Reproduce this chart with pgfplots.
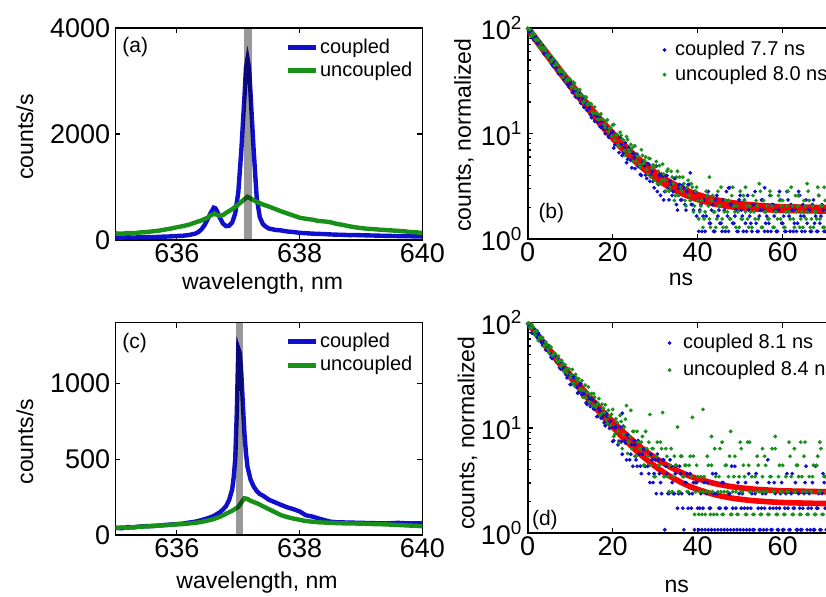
\documentclass[border=0pt]{standalone}
\usepackage{fontspec}
\setmainfont{Liberation Sans}
\usepackage{pgfplots}
\pgfplotsset{compat=1.18}

\definecolor{mblue}{RGB}{15,15,205}
\definecolor{mgreen}{RGB}{25,145,25}
\definecolor{mred}{RGB}{250,0,0}

\pgfplotsset{
  panel/.style={
    scale only axis, anchor=south west,
    axis line style={line width=0.8pt},
    tick style={black, line width=0.6pt},
    major tick length=2.5pt, minor tick length=1.4pt,
    tick label style={font=\fontsize{13.5}{14}\selectfont},
    xticklabel style={inner sep=1.5pt},
    yticklabel style={inner sep=2.5pt},
    label style={font=\fontsize{11.5}{13}\selectfont, inner sep=0pt},
    /pgf/number format/assume math mode=true,
    /pgf/number format/1000 sep={},
    legend cell align=left,
  },
  spec/.style={
    panel,
    xmin=635, xmax=640, xtick={636,638,640},
    xlabel={wavelength, nm}, ylabel={counts/s},
    legend image code/.code={\draw[##1, line width=2.5pt] (0pt,0pt) -- (14pt,0pt);},
  },
  decay/.style={
    panel,
    xmin=0, xmax=72, xtick={0,20,40,60},
    ymin=1, ymax=100,
    ytick={1,10,100},
    yticklabels={10\textsuperscript{0},10\textsuperscript{1},10\textsuperscript{2}},
    minor ytick={2,3,4,5,6,7,8,9,20,30,40,50,60,70,80,90},
    xlabel={ns}, ylabel={counts, normalized},
    legend image code/.code={\draw[##1, mark size=0.75pt] plot coordinates {(0pt,0pt)};},
  },
  spline/.style={line width=2.2pt},
  dots/.style={only marks, mark=*, mark size=0.75pt},
  fit/.style={mred, line width=#1, smooth, forget plot},
  band/.style={black, opacity=0.4, line width=#1, forget plot},
}

\begin{document}
\begin{tikzpicture}
\path[use as bounding box] (0,0) rectangle (413pt,298.5pt);
\clip (0,0) rectangle (413pt,298.5pt);

% (a) spectrum
\begin{axis}[spec,
  at={(57.75pt,178.5pt)}, width=153.5pt, height=106pt,
  ymin=0, ymax=4000, ytick={0,2000,4000},
  xlabel style={at={(axis description cs:0.479,-0.232)}, anchor=base},
  ylabel style={at={(axis description cs:-0.295,0.486)}, anchor=center},
  legend style={draw=none, fill=none, inner sep=0pt, font=\fontsize{10}{12}\selectfont,
    at={(0.551,0.959)}, anchor=north west, row sep=0.6pt, column sep=0pt, nodes={inner sep=1pt}},
]
\addplot[spline, mblue] coordinates {
(635.0,48)(635.1,42)(635.2,50)(635.3,45)(635.4,53)(635.5,55)(635.6,52)(635.7,60)(635.8,63)(635.9,68)
(636.0,75)(636.1,80)(636.2,95)(636.3,120)(636.35,150)(636.4,200)(636.45,280)(636.5,390)(636.55,510)
(636.6,610)(636.625,600)(636.65,555)(636.7,420)(636.75,310)(636.8,262)(636.85,268)(636.9,330)
(636.95,500)(637.0,900)(637.05,1700)(637.1,2700)(637.125,3250)(637.15,3420)(637.175,3250)(637.2,2750)
(637.25,1700)(637.3,800)(637.35,430)(637.4,300)(637.45,250)(637.5,215)(637.55,205)(637.6,190)
(637.7,180)(637.8,160)(637.9,150)(638.0,135)(638.1,128)(638.2,120)(638.3,115)(638.4,112)(638.5,105)
(638.6,100)(638.7,98)(638.8,92)(638.9,94)(639.0,90)(639.2,84)(639.4,78)(639.6,74)(639.8,70)(640.0,66)
};
\addlegendentry{coupled}
\addplot[spline, mgreen] coordinates {
(635.0,125)(635.1,118)(635.2,132)(635.3,128)(635.4,142)(635.5,150)(635.6,162)(635.7,175)(635.8,195)
(635.9,215)(636.0,240)(636.1,262)(636.2,290)(636.3,330)(636.4,370)(636.5,420)(636.55,465)(636.6,490)
(636.65,478)(636.7,455)(636.75,470)(636.8,510)(636.9,580)(637.0,670)(637.05,720)(637.1,770)(637.15,815)
(637.2,785)(637.25,750)(637.3,720)(637.4,670)(637.5,630)(637.6,585)(637.7,540)(637.8,500)(637.9,460)
(638.0,420)(638.1,400)(638.2,385)(638.3,360)(638.4,350)(638.5,335)(638.6,305)(638.7,285)(638.8,260)
(638.9,240)(639.0,225)(639.1,212)(639.2,205)(639.3,195)(639.4,188)(639.5,180)(639.6,172)(639.7,165)
(639.8,150)(639.9,145)(640.0,130)
};
\addlegendentry{uncoupled}
\addplot[band=4pt] coordinates {(637.155,0)(637.155,4000)};
\node[anchor=west, inner sep=0pt, font=\fontsize{10.5}{12}\selectfont] at (rel axis cs:0.021,0.91) {(a)};
\end{axis}

% (b) decay
\begin{axis}[decay, ymode=log,
  at={(263.85pt,179pt)}, width=153pt, height=105.35pt,
  xlabel style={at={(axis description cs:0.501,-0.222)}, anchor=base},
  ylabel style={at={(axis description cs:-0.208,0.493)}, anchor=center},
  legend style={draw=none, fill=none, inner sep=0pt, font=\fontsize{10}{12}\selectfont,
    at={(0.441,0.95)}, anchor=north west, row sep=1.6pt, column sep=3.5pt, nodes={inner sep=1pt}},
]
\addplot[dots, mblue] coordinates {
(0,99.5)(0.5,89.8)(1,90.4)(1.5,77.3)(2,81.2)(2.5,73.6)(3,66.3)(3.5,68.5)(4,56.7)(4.5,57.6)(5,52.3)
(5.5,52.9)(6,43.5)(6.5,45.5)(7,40.4)(7.5,41.0)(8,36.8)(8.5,32.6)(9,33.7)(9.5,29.3)(10,31.5)(10.5,24.6)
(11,25.9)(11.5,25.6)(12,21.6)(12.5,19.5)(13,21.8)(13.5,19.5)(14,16.7)(14.5,17.6)(15,14.2)(15.5,15.5)
(16,15.2)(16.5,12.9)(17,11.7)(17.5,13.1)(18,11.1)(18.5,11.3)(19,9.28)(19.5,9.75)(20,10.4)(20.5,7.83)
(21,9.76)(21.5,6.61)(22,7.93)(22.5,6.56)(23,8.16)(23.5,5.70)(24,6.81)(24.5,4.74)(25,5.90)(25.5,6.30)
(26,4.89)(26.5,4.09)(27,5.38)(27.5,4.98)(28,3.76)(28.5,5.12)(29,4.0)(29.5,3.53)(30,4.88)(30.5,2.82)
(31,4.0)(31.5,4.12)(32,2.35)(32.5,4.0)(33,3.06)(33.5,3.53)(34,2.59)(34.5,3.76)(35,2.12)(35.5,3.06)
(36,2.35)(36.5,3.29)(37,2.12)(37.5,2.82)(38,3.29)(38.5,2.12)(39,1.88)(39.5,2.82)(40,2.35)
(40.5,1.88)(41,1.18)(41.5,2.35)(42,1.65)(42.5,2.82)(43,1.41)(43.5,2.12)(44,1.18)(44.5,2.59)(45,1.88)
(45.5,1.41)(46,2.35)(46.5,1.18)(47,1.65)(47.5,3.06)(48,2.12)(48.5,1.41)(49,1.88)(49.5,1.18)(50,2.59)
(50.5,1.65)(51,2.35)(51.5,1.18)(52,1.88)(52.5,1.41)(53,2.12)(53.5,2.82)(54,1.18)(54.5,1.65)(55,2.35)
(55.5,1.88)(56,1.41)(56.5,1.18)(57,2.59)(57.5,2.12)(58,1.65)(58.5,1.18)(59,1.88)(59.5,2.35)(60,1.41)
(60.5,1.18)(61,2.82)(61.5,1.65)(62,2.12)(62.5,1.18)(63,1.88)(63.5,1.41)(64,2.59)(64.5,1.18)(65,1.65)
(65.5,2.35)(66,1.88)(66.5,1.18)(67,2.12)(67.5,1.41)(68,1.18)(68.5,2.59)(69,1.65)(69.5,1.88)(70,1.18)
(70.5,2.35)(71,1.41)(71.5,2.12)(72,1.18)
(38.25,4.24)(47.25,3.06)(55.75,3.06)(63.75,2.82)
(0.25,93.8)(0.75,95.2)(1.25,80.0)(1.75,81.5)(2.25,72.0)(2.75,74.6)(3.25,65.4)(3.75,57.7)(4.25,62.3)
(4.75,53.1)(5.25,52.9)(5.75,45.4)(6.25,48.1)(6.75,41.7)(7.25,37.2)(7.75,39.1)(8.25,37.9)(8.75,31.6)
(9.25,31.9)(9.75,27.7)(10.25,30.0)(10.75,24.9)(11.25,22.4)(11.75,24.6)(12.25,24.0)(12.75,20.0)
(13.25,17.8)(13.75,19.2)(14.25,18.9)(14.75,15.2)(15.25,15.7)(15.75,13.1)(16.25,14.7)(16.75,14.2)
(17.25,11.5)(17.75,11.9)(18.25,10.0)(18.75,11.2)(19.25,9.5)(19.75,10.3)(20.25,7.3)(20.75,9.8)
(21.25,7.7)(21.75,9.2)(22.25,6.2)(22.75,7.35)(23.25,5.3)(23.75,7.4)(24.25,5.57)(24.75,6.5)(25.25,4.66)
(25.75,6.36)(26.25,4.95)(26.75,4.02)(27.25,5.4)(27.75,4.05)(28.25,5.22)(28.75,3.53)(29.25,4.37)
(29.75,3.06)(30.25,4.91)(30.75,3.29)(31.25,2.59)(31.75,4.0)(32.25,2.82)(32.75,4.0)(33.25,2.35)
(33.75,3.29)(34.25,2.82)(34.75,3.76)(35.25,1.88)(35.75,3.29)(36.25,2.35)(36.75,3.06)(37.25,1.88)
(37.75,3.29)(38.75,2.12)(39.25,2.82)(39.75,1.65)
(40.25,1.18)(40.75,2.12)(41.25,1.65)(41.75,1.18)(42.25,2.59)(42.75,1.41)(43.25,1.88)(43.75,1.18)
(44.25,2.35)(44.75,1.65)(45.25,1.41)(45.75,1.18)(46.25,1.88)(46.75,2.82)(47.25,1.18)(47.75,2.12)
(48.25,1.41)(48.75,1.65)(49.25,1.18)(49.75,2.35)(50.25,1.88)(50.75,1.18)(51.25,1.41)(51.75,2.59)
(52.25,1.65)(52.75,1.18)(53.25,2.12)(53.75,1.41)(54.25,1.18)(54.75,1.88)(55.25,2.35)(55.75,1.18)
(56.25,1.65)(56.75,1.41)(57.25,1.18)(57.75,2.12)(58.25,1.88)(58.75,1.18)(59.25,2.82)(59.75,1.41)
(60.25,1.65)(60.75,1.18)(61.25,2.35)(61.75,1.18)(62.25,1.88)(62.75,1.41)(63.25,1.18)(63.75,2.59)
(64.25,1.65)(64.75,2.12)(65.25,1.18)(65.75,1.41)(66.25,1.88)(66.75,1.18)(67.25,2.35)(67.75,1.65)
(68.25,1.18)(68.75,1.41)(69.25,2.12)(69.75,1.18)(70.25,1.88)(70.75,2.59)(71.25,1.41)(71.75,1.18)
};
\addlegendentry{coupled 7.7 ns}
\addplot[dots, mgreen] coordinates {
(0,99.8)(0.5,97.3)(1,84.1)(1.5,88.4)(2,76.7)(2.5,76.8)(3,64.4)(3.5,66.1)(4,64.8)(4.5,55.8)(5,55.9)
(5.5,48.3)(6,51.6)(6.5,44.8)(7,44.9)(7.5,38.6)(8,38.8)(8.5,38.1)(9,31.7)(9.5,32.0)(10,32.7)(10.5,28.0)
(11,30.2)(11.5,24.2)(12,25.7)(12.5,23.6)(13,19.8)(13.5,22.3)(14,19.0)(14.5,19.3)(15,19.0)(15.5,15.6)
(16,15.8)(16.5,13.7)(17,15.1)(17.5,13.8)(18,12.1)(18.5,13.2)(19,10.4)(19.5,11.4)(20,12.1)(20.5,8.67)
(21,9.72)(21.5,7.51)(22,9.61)(22.5,8.69)(23,6.21)(23.5,8.78)(24,6.63)(24.5,7.26)(25,7.59)(25.5,5.46)
(26,6.04)(26.5,4.80)(27,6.21)(27.5,5.57)(28,4.57)(28.5,5.82)(29,3.87)(29.5,5.06)(30,4.89)(30.5,3.35)
(31,4.98)(31.5,3.61)(32,4.13)(32.5,2.84)(33,4.60)(33.5,3.10)(34,3.87)(34.5,2.32)(35,3.87)(35.5,2.58)
(36,3.10)(36.5,3.87)(37,2.32)(37.5,3.10)(38,2.58)(38.5,3.35)(39,1.81)(39.5,2.84)(40,2.32)
(40.5,1.81)(41,2.32)(41.5,1.55)(42,2.84)(42.5,2.06)(43,1.29)(43.5,2.58)(44,1.81)(44.5,1.55)(45,2.06)
(45.5,3.10)(46,1.29)(46.5,2.32)(47,1.81)(47.5,1.55)(48,2.58)(48.5,2.06)(49,1.29)(49.5,1.81)(50,2.84)
(50.5,1.55)(51,2.32)(51.5,2.06)(52,1.29)(52.5,1.81)(53,2.58)(53.5,1.55)(54,2.06)(54.5,3.35)(55,1.29)
(55.5,2.32)(56,1.81)(56.5,1.55)(57,2.84)(57.5,2.06)(58,1.29)(58.5,1.81)(59,2.58)(59.5,1.55)(60,2.32)
(60.5,1.29)(61,2.06)(61.5,1.81)(62,3.10)(62.5,1.55)(63,2.58)(63.5,2.06)(64,1.29)(64.5,1.81)(65,2.32)
(65.5,1.55)(66,2.84)(66.5,1.29)(67,2.06)(67.5,1.81)(68,1.55)(68.5,2.58)(69,2.06)(69.5,1.29)(70,2.32)
(70.5,1.81)(71,1.55)(71.5,2.84)(72,2.06)
(42.75,3.87)(35.25,4.39)(51.25,3.10)(65.75,3.35)(69.75,3.10)
(0.25,98.9)(0.75,86.6)(1.25,90.9)(1.75,78.3)(2.25,79.0)(2.75,66.5)(3.25,71.9)(3.75,62.7)(4.25,61.4)
(4.75,52.7)(5.25,56.0)(5.75,50.2)(6.25,44.5)(6.75,47.6)(7.25,40.3)(7.75,41.1)(8.25,34.3)(8.75,36.9)
(9.25,32.8)(9.75,33.4)(10.25,27.6)(10.75,30.8)(11.25,26.7)(11.75,23.0)(12.25,26.1)(12.75,23.0)
(13.25,20.1)(13.75,22.2)(14.25,18.9)(14.75,19.3)(15.25,15.8)(15.75,17.9)(16.25,15.5)(16.75,13.6)
(17.25,15.4)(17.75,13.6)(18.25,11.4)(18.75,13.5)(19.25,11.2)(19.75,9.48)(20.25,12.2)(20.75,9.77)
(21.25,7.79)(21.75,10.3)(22.25,8.82)(22.75,6.89)(23.25,9.36)(23.75,6.98)(24.25,7.88)(24.75,5.44)
(25.25,7.66)(25.75,6.16)(26.25,5.07)(26.75,7.03)(27.25,5.21)(27.75,6.01)(28.25,4.13)(28.75,5.8)
(29.25,4.70)(29.75,3.61)(30.25,5.43)(30.75,4.39)(31.25,3.35)(31.75,5.13)(32.25,3.61)(32.75,4.39)
(33.25,2.84)(33.75,4.39)(34.25,3.35)(34.75,2.58)(35.75,3.87)(36.25,2.84)(36.75,3.35)(37.25,2.06)
(37.75,3.61)(38.25,2.32)(38.75,3.10)(39.25,2.06)(39.75,3.10)
(40.25,1.55)(40.75,2.06)(41.25,1.29)(41.75,1.81)(42.25,2.58)(42.75,1.55)(43.25,2.32)(43.75,1.81)
(44.25,1.29)(44.75,2.84)(45.25,2.06)(45.75,1.55)(46.25,1.81)(46.75,1.29)(47.25,2.32)(47.75,1.55)
(48.25,3.10)(48.75,1.81)(49.25,2.06)(49.75,1.29)(50.25,1.55)(50.75,2.58)(51.25,1.81)(51.75,1.55)
(52.25,2.06)(52.75,1.29)(53.25,1.81)(53.75,2.32)(54.25,1.55)(54.75,2.84)(55.25,1.29)(55.75,1.81)
(56.25,2.06)(56.75,1.55)(57.25,2.58)(57.75,1.29)(58.25,1.81)(58.75,1.55)(59.25,2.32)(59.75,2.06)
(60.25,1.29)(60.75,1.81)(61.25,2.84)(61.75,1.55)(62.25,2.06)(62.75,1.29)(63.25,1.81)(63.75,2.58)
(64.25,1.55)(64.75,1.29)(65.25,2.06)(65.75,1.81)(66.25,2.32)(66.75,1.55)(67.25,1.29)(67.75,1.81)
(68.25,3.10)(68.75,1.55)(69.25,2.06)(69.75,1.29)(70.25,1.81)(70.75,2.32)(71.25,1.55)(71.75,2.58)
};
\addlegendentry{uncoupled 8.0 ns}
\addplot[fit=3.3pt] coordinates {
(0,99.85)(1,87.9)(2,77.4)(3,68.2)(4,60.1)(5,53.0)(6,46.8)(7,41.3)(8,36.5)(9,32.3)(10,28.6)(12,22.5)
(14,17.8)(16,14.1)(18,11.3)(20,9.15)(22,7.48)(24,6.19)(26,5.20)(28,4.44)(30,3.84)(32,3.39)(34,3.04)
(36,2.76)(38,2.56)(40,2.39)(44,2.17)(48,2.04)(52,1.97)(56,1.92)(60,1.89)(66,1.87)(72,1.86)
};
\addplot[fit=3.3pt] coordinates {
(0,99.95)(1,88.4)(2,78.3)(3,69.3)(4,61.4)(5,54.4)(6,48.2)(7,42.8)(8,38.0)(9,33.8)(10,30.0)(12,23.8)
(14,19.0)(16,15.2)(18,12.3)(20,10.0)(22,8.21)(24,6.83)(26,5.75)(28,4.91)(30,4.25)(32,3.74)(34,3.35)
(36,3.04)(38,2.80)(40,2.61)(44,2.35)(48,2.19)(52,2.10)(56,2.04)(60,2.00)(66,1.98)(72,1.96)
};
\node[anchor=west, inner sep=0pt, font=\fontsize{10.5}{12}\selectfont] at (rel axis cs:0.034,0.123) {(b)};
\end{axis}

% (c) spectrum
\begin{axis}[spec,
  at={(57.75pt,31pt)}, width=153.5pt, height=106.15pt,
  ymin=0, ymax=1400, ytick={0,500,1000},
  xlabel style={at={(axis description cs:0.461,-0.25)}, anchor=base},
  ylabel style={at={(axis description cs:-0.295,0.44)}, anchor=center},
  legend style={draw=none, fill=none, inner sep=0pt, font=\fontsize{10}{12}\selectfont,
    at={(0.551,0.964)}, anchor=north west, row sep=1.1pt, column sep=0pt, nodes={inner sep=1pt}},
]
\addplot[spline, mblue] coordinates {
(635.0,48)(635.1,44)(635.2,52)(635.3,50)(635.4,56)(635.5,58)(635.6,60)(635.7,62)(635.8,66)(635.9,69)
(636.0,72)(636.1,75)(636.2,82)(636.3,88)(636.4,98)(636.5,110)(636.6,125)(636.7,150)(636.75,168)
(636.8,190)(636.85,230)(636.9,300)(636.925,380)(636.95,500)(636.975,800)(637.0,1230)(637.025,1200)
(637.05,1060)(637.075,860)(637.1,670)(637.125,540)(637.15,450)(637.2,365)(637.25,320)(637.3,290)
(637.35,270)(637.4,260)(637.5,232)(637.6,215)(637.7,198)(637.8,182)(637.9,170)(638.0,155)(638.1,130)
(638.2,122)(638.3,110)(638.4,98)(638.5,88)(638.6,84)(638.8,82)(639.0,80)(639.2,78)(639.4,76)
(639.6,80)(639.8,76)(640.0,78)
};
\addlegendentry{coupled}
\addplot[spline, mgreen] coordinates {
(635.0,45)(635.1,50)(635.2,47)(635.3,52)(635.4,55)(635.5,56)(635.6,58)(635.7,62)(635.8,64)(635.9,67)
(636.0,70)(636.1,72)(636.2,76)(636.3,80)(636.4,86)(636.5,95)(636.6,105)(636.7,120)(636.8,140)
(636.9,160)(637.0,185)(637.05,215)(637.1,242)(637.15,238)(637.2,225)(637.3,210)(637.4,190)(637.5,170)
(637.6,150)(637.7,130)(637.8,118)(637.9,108)(638.0,100)(638.1,92)(638.2,88)(638.3,84)(638.4,82)
(638.5,80)(638.6,78)(638.8,76)(639.0,75)(639.2,72)(639.4,70)(639.6,66)(639.8,62)(640.0,58)
};
\addlegendentry{uncoupled}
\addplot[band=3.7pt] coordinates {(637.02,0)(637.02,1400)};
\node[anchor=west, inner sep=0pt, font=\fontsize{10.5}{12}\selectfont] at (rel axis cs:0.021,0.903) {(c)};
\end{axis}

% (d) decay
\begin{axis}[decay, ymode=log,
  at={(263.85pt,31.85pt)}, width=153pt, height=105.35pt,
  xlabel style={at={(axis description cs:0.487,-0.283)}, anchor=base},
  ylabel style={at={(axis description cs:-0.197,0.476)}, anchor=center},
  legend style={draw=none, fill=none, inner sep=0pt, font=\fontsize{10}{12}\selectfont,
    at={(0.4575,0.956)}, anchor=north west, row sep=2.8pt, column sep=5pt, nodes={inner sep=1pt}},
]
\addplot[dots, mblue] coordinates {
(0,97.0)(0.5,92.1)(1,79.7)(1.5,87.5)(2,76.1)(2.5,79.8)(3,70.3)(3.5,60.9)(4,65.4)(4.5,55.2)(5,60.3)
(5.5,47.0)(6,49.6)(6.5,49.0)(7,41.5)(7.5,37.4)(8,41.9)(8.5,37.3)(9,32.1)(9.5,33.8)(10,25.8)(10.5,30.4)
(11,30.4)(11.5,24.4)(12,21.7)(12.5,26.3)(13,21.0)(13.5,22.2)(14,16.7)(14.5,18.6)(15,19.1)(15.5,15.2)
(16,17.6)(16.5,12.9)(17,14.5)(17.5,12.8)(18,11.2)(18.5,13.7)(19,11.0)(19.5,11.7)(20,7.45)(20.5,9.99)
(21,11.2)(21.5,7.49)(22,7.38)(22.5,10.4)(23,7.18)(23.5,8.61)(24,4.98)(24.5,6.93)(25,7.58)(25.5,4.98)
(26,7.58)(26.5,4.33)(27,5.63)(27.5,4.33)(28,6.28)(28.5,3.68)(29,5.63)(29.5,3.03)(30,4.98)(30.5,5.63)
(31,3.68)(31.5,2.38)(32,4.98)(32.5,4.33)(33,2.38)(33.5,4.98)(34,3.03)(34.5,2.38)(35,4.33)(35.5,2.38)
(36,3.68)(36.5,1.73)(37,3.03)(37.5,3.68)(38,2.38)(38.5,1.73)(39,3.03)(39.5,3.03)(40,1.73)
(40.5,1.73)(41,1.08)(41.5,3.03)(42,2.38)(42.5,1.08)(43,1.73)(43.5,3.68)(44,1.08)(44.5,2.38)(45,1.73)
(45.5,1.08)(46,3.03)(46.5,1.73)(47,1.08)(47.5,2.38)(48,4.33)(48.5,1.08)(49,1.73)(49.5,3.03)(50,1.08)
(50.5,2.38)(51,1.73)(51.5,1.08)(52,3.68)(52.5,1.73)(53,1.08)(53.5,2.38)(54,3.03)(54.5,1.08)(55,1.73)
(55.5,1.08)(56,2.38)(56.5,4.98)(57,1.73)(57.5,1.08)(58,3.03)(58.5,1.73)(59,1.08)(59.5,2.38)(60,1.08)
(60.5,1.73)(61,3.68)(61.5,1.08)(62,2.38)(62.5,1.73)(63,3.03)(63.5,1.08)(64,1.73)(64.5,1.08)(65,2.38)
(65.5,4.33)(66,1.73)(66.5,1.08)(67,3.03)(67.5,1.08)(68,1.73)(68.5,2.38)(69,1.08)(69.5,3.68)(70,1.73)
(70.5,1.08)(71,2.38)(71.5,3.03)(72,1.73)
(32.25,1.08)(22.25,13.8)(36.75,1.08)
(0.25,92.1)(0.75,94.8)(1.25,79.9)(1.75,81.7)(2.25,71.6)(2.75,76.0)(3.25,65.5)(3.75,65.5)(4.25,55.1)
(4.75,59.2)(5.25,51.1)(5.75,45.6)(6.25,49.1)(6.75,42.3)(7.25,44.8)(7.75,36.3)(8.25,36.6)(8.75,37.0)
(9.25,29.9)(9.75,31.9)(10.25,26.0)(10.75,30.7)(11.25,25.0)(11.75,21.4)(12.25,25.4)(12.75,20.6)
(13.25,21.4)(13.75,17.3)(14.25,19.9)(14.75,16.0)(15.25,18.5)(15.75,15.1)(16.25,12.8)(16.75,15.3)
(17.25,12.4)(17.75,13.2)(18.25,10.5)(18.75,12.8)(19.25,9.9)(19.75,10.2)(20.25,7.58)(20.75,10.2)
(21.25,6.93)(21.75,10.18)(22.25,5.63)(22.75,7.58)(23.25,4.98)(23.75,8.23)(24.25,5.63)(24.75,4.33)
(25.25,6.93)(25.75,4.33)(26.25,5.63)(26.75,3.68)(27.25,6.28)(27.75,4.33)(28.25,4.33)(28.75,3.03)
(29.25,4.98)(29.75,3.68)(30.25,2.38)(30.75,4.98)(31.25,3.03)(31.75,4.98)(32.75,3.68)(33.25,2.38)
(33.75,4.33)(34.25,2.38)(34.75,3.68)(35.25,1.73)(35.75,4.33)(36.25,2.38)(37.25,3.03)(37.75,1.73)
(38.25,3.68)(38.75,2.38)(39.25,1.08)(39.75,3.03)
(40.25,1.08)(40.75,2.38)(41.25,1.73)(41.75,1.08)(42.25,3.03)(42.75,1.73)(43.25,1.08)(43.75,2.38)
(44.25,3.68)(44.75,1.08)(45.25,1.73)(45.75,3.03)(46.25,1.08)(46.75,1.73)(47.25,2.38)(47.75,1.08)
(48.25,1.73)(48.75,4.33)(49.25,1.08)(49.75,2.38)(50.25,1.73)(50.75,1.08)(51.25,3.03)(51.75,1.73)
(52.25,1.08)(52.75,2.38)(53.25,1.08)(53.75,3.68)(54.25,1.73)(54.75,1.08)(55.25,2.38)(55.75,1.73)
(56.25,1.08)(56.75,3.03)(57.25,1.08)(57.75,1.73)(58.25,2.38)(58.75,1.08)(59.25,1.73)(59.75,3.03)
(60.25,1.08)(60.75,2.38)(61.25,1.73)(61.75,1.08)(62.25,3.68)(62.75,1.73)(63.25,1.08)(63.75,2.38)
(64.25,1.08)(64.75,1.73)(65.25,3.03)(65.75,1.08)(66.25,2.38)(66.75,1.73)(67.25,1.08)(67.75,4.33)
(68.25,1.73)(68.75,1.08)(69.25,2.38)(69.75,3.03)(70.25,1.08)(70.75,1.73)(71.25,1.08)(71.75,2.38)
};
\addlegendentry{coupled 8.1 ns}
\addplot[dots, mgreen] coordinates {
(0,98.0)(0.5,89.6)(1,95.2)(1.5,81.4)(2,84.1)(2.5,67.4)(3,72.1)(3.5,72.1)(4,59.9)(4.5,61.9)(5,51.7)
(5.5,58.4)(6,49.2)(6.5,50.7)(7,42.1)(7.5,43.7)(8,43.7)(8.5,34.5)(9,36.3)(9.5,36.0)(10,29.9)(10.5,35.9)
(11,25.1)(11.5,29.8)(12,29.4)(12.5,23.3)(13,19.5)(13.5,25.5)(14,21.7)(14.5,17.7)(15,21.2)(15.5,21.2)
(16,15.8)(16.5,17.2)(17,13.2)(17.5,16.8)(18,14.0)(18.5,12.0)(19,14.7)(19.5,10.6)(20,15.0)(20.5,8.72)
(21,11.3)(21.5,7.20)(22,11.5)(22.5,8.69)(23,12.1)(23.5,5.72)(24,8.30)(24.5,6.36)(25,9.27)(25.5,5.39)
(26,7.33)(26.5,6.36)(27,8.30)(27.5,4.42)(28,6.36)(28.5,7.33)(29,4.42)(29.5,6.36)(30,3.45)(30.5,7.33)
(31,4.42)(31.5,6.36)(32,3.45)(32.5,6.36)(33,3.45)(33.5,4.42)(34,2.48)(34.5,5.39)(35,4.42)(35.5,2.48)
(36,5.39)(36.5,3.45)(37,4.42)(37.5,2.48)(38,4.42)(38.5,3.45)(39,5.39)(39.5,2.48)(40,3.45)
(40.5,2.48)(41,1.51)(41.5,3.45)(42,2.48)(42.5,4.42)(43,1.51)(43.5,2.48)(44,6.36)(44.5,1.51)(45,3.45)
(45.5,2.48)(46,1.51)(46.5,4.42)(47,2.48)(47.5,5.39)(48,1.51)(48.5,3.45)(49,2.48)(49.5,1.51)(50,7.33)
(50.5,2.48)(51,3.45)(51.5,1.51)(52,4.42)(52.5,2.48)(53,1.51)(53.5,3.45)(54,5.39)(54.5,2.48)(55,1.51)
(55.5,2.48)(56,4.42)(56.5,1.51)(57,3.45)(57.5,6.36)(58,2.48)(58.5,1.51)(59,3.45)(59.5,2.48)(60,4.42)
(60.5,1.51)(61,2.48)(61.5,7.33)(62,3.45)(62.5,1.51)(63,2.48)(63.5,4.42)(64,1.51)(64.5,3.45)(65,5.39)
(65.5,2.48)(66,1.51)(66.5,2.48)(67,3.45)(67.5,1.51)(68,4.42)(68.5,2.48)(69,6.36)(69.5,1.51)(70,3.45)
(70.5,2.48)(71,1.51)(71.5,4.42)(72,2.48)
(23.25,16.3)(24.25,14.7)(28.75,13.4)(31.75,14.0)(38.75,12.6)(41.25,15.0)(35.25,10.2)(43.25,8.30)
(45.75,7.33)(52.25,7.33)(58.25,8.30)(47.75,9.27)(64.25,7.33)(62.75,6.36)(55.25,6.36)(68.75,7.33)(50.25,6.36)
(0.25,99.0)(0.75,87.9)(1.25,90.7)(1.75,75.9)(2.25,83.3)(2.75,72.1)(3.25,71.4)(3.75,59.7)(4.25,65.5)
(4.75,56.1)(5.25,59.5)(5.75,48.5)(6.25,51.2)(6.75,44.7)(7.25,48.0)(7.75,38.3)(8.25,40.6)(8.75,39.9)
(9.25,33.2)(9.75,36.3)(10.25,31.8)(10.75,26.6)(11.25,32.2)(11.75,27.8)(12.25,23.1)(12.75,28.1)
(13.25,22.6)(13.75,19.3)(14.25,24.5)(14.75,20.4)(15.25,16.2)(15.75,19.6)(16.25,16.6)(16.75,19.0)
(17.25,13.5)(17.75,15.4)(18.25,16.6)(18.75,11.0)(19.25,12.9)(19.75,13.5)(20.25,8.30)(20.75,12.18)
(21.25,9.27)(21.75,13.15)(22.25,6.36)(22.75,10.24)(23.75,7.33)(24.75,9.27)(25.25,5.39)(25.75,9.27)
(26.25,6.36)(26.75,7.33)(27.25,4.42)(27.75,9.27)(28.25,5.39)(29.25,6.36)(29.75,3.45)(30.25,5.39)
(30.75,4.42)(31.25,7.33)(32.25,3.45)(32.75,5.39)(33.25,2.48)(33.75,6.36)(34.25,3.45)(34.75,4.42)
(35.75,2.48)(36.25,5.39)(36.75,3.45)(37.25,4.42)(37.75,2.48)(38.25,5.39)(39.25,1.51)(39.75,4.42)
(40.25,1.51)(40.75,3.45)(41.25,2.48)(41.75,1.51)(42.25,5.39)(42.75,2.48)(43.25,4.42)(43.75,1.51)
(44.25,3.45)(44.75,2.48)(45.25,6.36)(45.75,1.51)(46.25,2.48)(46.75,4.42)(47.25,3.45)(47.75,1.51)
(48.25,2.48)(48.75,5.39)(49.25,1.51)(49.75,3.45)(50.25,2.48)(50.75,4.42)(51.25,1.51)(51.75,7.33)
(52.25,2.48)(52.75,3.45)(53.25,1.51)(53.75,2.48)(54.25,4.42)(54.75,1.51)(55.25,3.45)(55.75,5.39)
(56.25,2.48)(56.75,1.51)(57.25,3.45)(57.75,2.48)(58.25,6.36)(58.75,1.51)(59.25,4.42)(59.75,2.48)
(60.25,1.51)(60.75,3.45)(61.25,2.48)(61.75,5.39)(62.25,1.51)(62.75,2.48)(63.25,4.42)(63.75,3.45)
(64.25,1.51)(64.75,2.48)(65.25,7.33)(65.75,1.51)(66.25,3.45)(66.75,2.48)(67.25,4.42)(67.75,1.51)
(68.25,5.39)(68.75,2.48)(69.25,1.51)(69.75,3.45)(70.25,2.48)(70.75,6.36)(71.25,1.51)(71.75,4.42)
};
\addlegendentry{uncoupled 8.4 ns}
\addplot[fit=2.8pt] coordinates {
(0,99.9)(1,88.5)(2,78.5)(3,69.6)(4,61.7)(5,54.8)(6,48.6)(7,43.2)(8,38.4)(9,34.2)(10,30.4)(12,24.2)
(14,19.3)(16,15.5)(18,12.5)(20,10.2)(22,8.39)(24,6.97)(26,5.86)(28,5.00)(30,4.32)(32,3.79)(34,3.38)
(36,3.06)(38,2.80)(40,2.61)(44,2.33)(48,2.16)(52,2.06)(56,2.00)(60,1.96)(66,1.93)(72,1.91)
};
\addplot[fit=2.8pt] coordinates {
(0,99.95)(1,89.0)(2,79.3)(3,70.7)(4,63.0)(5,56.2)(6,50.2)(7,44.8)(8,40.1)(9,35.9)(10,32.1)(12,25.8)
(14,20.9)(16,17.0)(18,13.9)(20,11.5)(22,9.57)(24,8.06)(26,6.87)(28,5.93)(30,5.20)(32,4.61)(34,4.16)
(36,3.80)(38,3.51)(40,3.29)(44,2.97)(48,2.77)(52,2.65)(56,2.58)(60,2.53)(66,2.50)(72,2.47)
};
\node[anchor=west, inner sep=0pt, font=\fontsize{10.5}{12}\selectfont] at (rel axis cs:0.013,0.063) {(d)};
\end{axis}
\end{tikzpicture}
\end{document}
